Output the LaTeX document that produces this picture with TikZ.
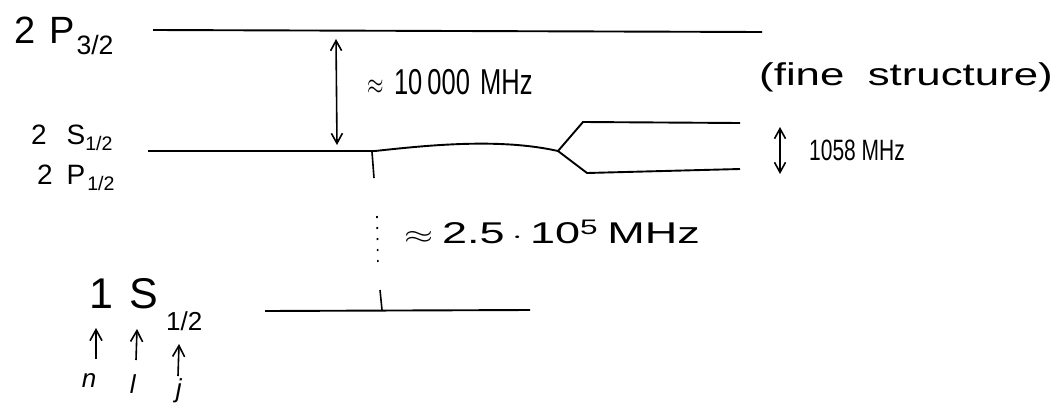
\documentclass[tikz,border=0pt]{standalone}
\usepackage{amsmath}
\usepackage{graphicx}
\usepackage{fontspec}
\setmainfont{Liberation Sans}
\usetikzlibrary{arrows.meta}
\begin{document}
\begin{tikzpicture}[x=1pt,y=-1pt,
  lvl/.style={line width=1.9pt},
  conn/.style={line width=1.6pt},
  arr/.style={line width=1.6pt,-{Straight Barb[length=11pt,width=12pt]}},
  darr/.style={line width=1.6pt,{Straight Barb[length=10pt,width=11pt]}-{Straight Barb[length=10pt,width=11pt]}},
  lab/.style={inner sep=0pt,anchor=center},
  f/.style={font=\fontsize{#1pt}{#1pt}\selectfont}]
\useasboundingbox (0,0) rectangle (1056,410);
% level coordinates
\coordinate (t1) at (153,30);
\coordinate (t2) at (762,32);
\coordinate (m1) at (148,151);
\coordinate (mk) at (375,151);
\coordinate (ms) at (558,151);
\coordinate (u1) at (583,122);
\coordinate (u2) at (740,123);
\coordinate (d1) at (587,173);
\coordinate (d2) at (740,169);
\coordinate (g1) at (265,311);
\coordinate (g2) at (530,310);
% levels
\draw[lvl] (t1) -- (t2);
\draw[lvl] (m1) -- (mk) .. controls (430,145) and (500,138) .. (ms);
\draw[lvl] (ms) -- (u1) -- (u2);
\draw[lvl] (ms) -- (d1) -- (d2);
\draw[lvl] (g1) -- (g2);
% arrows and ticks
\coordinate (a1) at (336,39);
\coordinate (a2) at (337,145);
\draw[darr] (a1) -- (a2);
\coordinate (b1) at (780,127);
\coordinate (b2) at (780,174);
\draw[darr] (b1) -- (b2);
\coordinate (k1) at (372,152);
\coordinate (k2) at (374,178);
\draw[conn] (k1) -- (k2);
\coordinate (p1) at (377,216);
\coordinate (p2) at (378,266);
\draw[conn,dash pattern=on 2pt off 9pt] (p1) -- (p2);
\coordinate (q1) at (380,290);
\coordinate (q2) at (382,310);
\draw[conn] (q1) -- (q2);
% labels
\node[lab,f=38] (lP32) at (64,36) {2\hspace{14pt}P\hspace{2pt}\textsubscript{3/2}};
\node[lab,f=28] (lS12) at (72,138) {2\hspace{20pt}S\textsubscript{1/2}};
\node[lab,f=28] (lP12) at (76,178) {2\hspace{14pt}P\hspace{2pt}\textsubscript{1/2}};
\node[lab,f=30] (e1) at (450,82) {\scalebox{0.85}[1.2]{$\approx$\hspace{12pt}10\hspace{6pt}000\hspace{12pt}MHz}};
\node[lab,f=30] (fs) at (906,77) {\scalebox{1.46}[1.05]{(fine\hspace{16pt}structure)}};
\node[lab,f=21] (e2) at (857,150) {\scalebox{1}[1.4]{1058 MHz}};
\node[lab,f=30] (e3) at (552,232) {\scalebox{1.5}[1]{$\approx$\hspace{6pt}2.5\,$\cdot$\,10\textsuperscript{5}\hspace{6pt}MHz}};
\node[lab,f=43] (lS1) at (146,305) {1\hspace{16pt}S\hspace{8pt}\raisebox{-22pt}{\fontsize{26pt}{26pt}\selectfont 1/2}};
% quantum number arrows
\node[lab,f=26] (nn) at (89,381) {\textit{n}};
\node[lab,f=26] (nl) at (133,384) {\textit{l}};
\node[lab,f=26] (nj) at (179,391) {\textit{j}};
\coordinate (n1) at (96,359);
\coordinate (n2) at (96,328);
\coordinate (l1) at (136,360);
\coordinate (l2) at (137,329);
\coordinate (j1) at (178,376);
\coordinate (j2) at (179,344);
\draw[arr] (n1) -- (n2);
\draw[arr] (l1) -- (l2);
\draw[arr] (j1) -- (j2);
\end{tikzpicture}
\end{document}
